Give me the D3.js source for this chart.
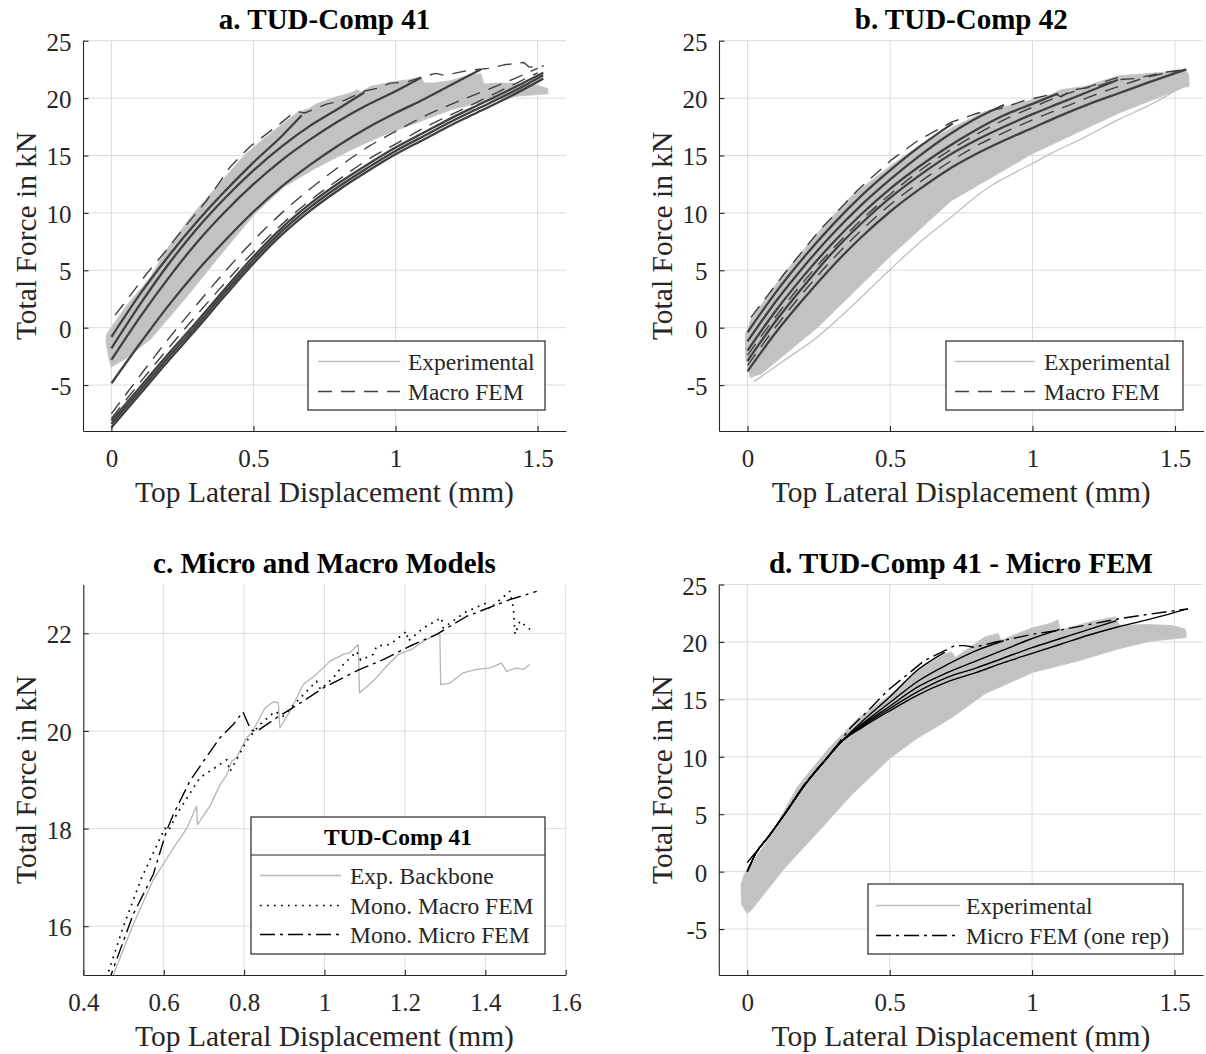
<!DOCTYPE html>
<html><head><meta charset="utf-8">
<script src="https://cdn.jsdelivr.net/npm/d3@7"></script>
<style>
body{margin:0;background:#fff;}
svg text{font-family:"Liberation Serif","Times New Roman",serif;fill:#262626;}
</style></head><body>
<svg id="chart" width="1206" height="1054"></svg>
<script>
// ---------- tick values ----------
const xTicksABD = [0, 0.5, 1, 1.5];
const yTicksABD = [-5, 0, 5, 10, 15, 20, 25];
const xTicksC = [0.4, 0.6, 0.8, 1, 1.2, 1.4, 1.6];
const yTicksC = [16, 18, 20, 22];

// ---------- titles / legends ----------
const titles = ["a. TUD-Comp 41", "b. TUD-Comp 42", "c. Micro and Macro Models", "d. TUD-Comp 41 - Micro FEM"];
const xLabel = "Top Lateral Displacement (mm)";
const yLabel = "Total Force in kN";
const legendAB = ["Experimental", "Macro FEM"];
const legendC = ["Exp. Backbone", "Mono. Macro FEM", "Mono. Micro FEM"];
const legendCTitle = "TUD-Comp 41";
const legendD = ["Experimental", "Micro FEM (one rep)"];

// ---------- panel a : TUD-Comp 41, macro FEM ----------
const aExpUpper = [[-0.016,-0.6],[0,0],[0.054,1.9],[0.136,4.3],[0.195,6.8],[0.289,9.9],[0.394,12.9],[0.465,14.9],[0.54,16.5],[0.607,17.8],[0.654,18.7],[0.69,19.0],[0.724,19.5],[0.78,20.0],[0.841,20.4],[0.865,20.7],[0.88,20.5],[0.912,21.0],[0.994,21.4],[1.05,21.6],[1.088,21.8],[1.1,21.3],[1.135,21.3],[1.194,21.5],[1.25,21.9],[1.299,22.1],[1.31,21.2],[1.37,21.3],[1.45,21.2],[1.5,21.1],[1.535,20.8]];
const aExpLower = [[1.535,20.4],[1.43,20.2],[1.31,19.7],[1.194,19.0],[1.076,17.9],[0.958,16.8],[0.841,15.5],[0.724,14.0],[0.607,12.3],[0.502,9.9],[0.371,6.0],[0.254,2.4],[0.136,-1.0],[0.054,-2.6],[0,-3.4],[-0.01,-2.4],[-0.018,-1.2]];
const aMacro1 = [[0,-0.8],[0.1,2.9],[0.2,6.2],[0.3,9.2],[0.4,11.9],[0.5,14.4],[0.6,16.7],[0.67,18.5]];
const aMacro2 = [[0,-1.8],[0.1,2.0],[0.2,5.5],[0.3,8.6],[0.4,11.3],[0.5,13.7],[0.6,15.8],[0.7,17.6],[0.8,19.1],[0.89,20.5]];
const aMacro3 = [[0,-2.8],[0.1,0.9],[0.2,4.3],[0.3,7.4],[0.4,10.1],[0.5,12.5],[0.6,14.6],[0.7,16.4],[0.8,18.0],[0.9,19.4],[1.0,20.6],[1.09,21.8]];
const aMacro4 = [[0,-4.85],[0.1,-1.4],[0.2,1.9],[0.3,4.9],[0.4,7.6],[0.5,10.1],[0.6,12.3],[0.7,14.2],[0.8,15.9],[0.9,17.4],[1.0,18.7],[1.1,19.9],[1.2,21.2],[1.3,22.5]];
const aMacro5a = [[0,-8.7],[0.1,-5.8],[0.2,-2.9],[0.3,-0.1],[0.4,2.8],[0.5,5.6],[0.6,8.1],[0.7,10.2],[0.8,12.0],[0.9,13.6],[1.0,15.1],[1.1,16.4],[1.2,17.7],[1.3,18.9],[1.4,20.1],[1.52,21.7]];
const aMacro5b = [[0,-8.4],[0.1,-5.5],[0.2,-2.6],[0.3,0.2],[0.4,3.1],[0.5,5.9],[0.6,8.4],[0.7,10.5],[0.8,12.3],[0.9,13.9],[1.0,15.4],[1.1,16.7],[1.2,18.0],[1.3,19.2],[1.4,20.4],[1.52,22.0]];
const aMacro5c = [[0,-8.1],[0.1,-5.2],[0.2,-2.3],[0.3,0.5],[0.4,3.4],[0.5,6.2],[0.6,8.7],[0.7,10.8],[0.8,12.6],[0.9,14.2],[1.0,15.7],[1.1,17.0],[1.2,18.3],[1.3,19.5],[1.4,20.7],[1.52,22.2]];
const aDashEnv = [[0.013,1.1],[0.054,2.4],[0.124,4.7],[0.195,6.8],[0.254,8.65],[0.336,11.1],[0.418,14.0],[0.489,15.8],[0.595,17.8],[0.63,18.5],[0.66,18.8],[0.68,18.7],[0.76,19.5],[0.82,19.8],[0.888,20.6],[0.935,20.85],[0.982,21.3],[1.04,21.4],[1.09,21.8],[1.141,22.15],[1.17,22.0],[1.205,22.15],[1.253,22.4],[1.335,22.6],[1.382,22.9],[1.452,23.1],[1.47,22.7],[1.522,22.8]];
const aDash2 = [[0,-7.5],[0.1,-4.2],[0.2,-1.0],[0.3,2.0],[0.4,4.9],[0.5,7.6],[0.6,10.0],[0.7,12.1],[0.8,14.0],[0.9,15.7],[1.0,17.1],[1.1,18.4],[1.2,19.5],[1.3,20.5],[1.4,21.5],[1.5,22.6]];
const aDash3 = [[0,-7.9],[0.1,-4.8],[0.2,-1.8],[0.3,1.1],[0.4,3.9],[0.5,6.6],[0.6,9.0],[0.7,11.1],[0.8,12.9],[0.9,14.6],[1.0,16.0],[1.1,17.4],[1.2,18.6],[1.3,19.8],[1.4,21.0],[1.5,22.2]];

// ---------- panel b : TUD-Comp 42, macro FEM ----------
const bExpUpper = [[-0.006,-0.5],[0,-0.3],[0.012,0.7],[0.129,4.7],[0.246,8.2],[0.363,11.4],[0.498,14.0],[0.598,15.75],[0.715,17.35],[0.832,18.8],[0.95,19.5],[1.067,20.3],[1.1,20.7],[1.184,21.0],[1.3,21.9],[1.419,22.15],[1.536,22.4],[1.548,22.0]];
const bExpLower = [[1.548,21.0],[1.536,21.0],[1.3,18.7],[1.0,15.2],[0.715,11.1],[0.498,6.2],[0.246,0.06],[0.047,-4.0],[0.01,-4.3],[-0.006,-2.5]];
const bExpLine = [[0.023,-4.7],[0.129,-2.85],[0.246,-0.8],[0.363,1.8],[0.498,5.0],[0.598,7.3],[0.715,9.65],[0.832,12.0],[1.0,14.3],[1.067,15.2],[1.184,16.6],[1.3,18.1],[1.419,19.5],[1.547,21.3]];
const bMacro1 = [[0,-0.4],[0.1,3.1],[0.2,6.2],[0.3,9.0],[0.4,11.5],[0.5,13.7],[0.6,15.7],[0.72,17.8]];
const bMacro2 = [[0,-1.2],[0.1,2.3],[0.2,5.4],[0.3,8.2],[0.4,10.7],[0.5,12.9],[0.6,14.9],[0.7,16.7],[0.8,18.2],[0.9,19.4]];
const bMacro3 = [[0,-2.0],[0.1,1.5],[0.2,4.6],[0.3,7.4],[0.4,9.9],[0.5,12.1],[0.6,14.0],[0.7,15.7],[0.8,17.2],[0.9,18.5],[1.0,19.5],[1.09,20.4]];
const bMacro4 = [[0,-2.9],[0.1,0.6],[0.2,3.7],[0.3,6.6],[0.4,9.1],[0.5,11.3],[0.6,13.2],[0.7,14.9],[0.8,16.3],[0.9,17.5],[1.0,18.6],[1.1,19.6],[1.2,20.6],[1.3,21.6]];
const bMacro5 = [[0,-3.8],[0.1,-0.4],[0.2,2.6],[0.3,5.4],[0.4,7.9],[0.5,10.1],[0.6,12.0],[0.7,13.7],[0.8,15.1],[0.9,16.3],[1.0,17.4],[1.1,18.5],[1.2,19.5],[1.3,20.4],[1.4,21.3],[1.54,22.5]];
const bDashEnv = [[0.012,0.9],[0.129,4.7],[0.25,8.4],[0.387,12.0],[0.504,14.6],[0.598,16.3],[0.715,17.9],[0.809,18.7],[0.89,19.1],[0.973,19.8],[1.079,20.4],[1.1,20.1],[1.137,20.7],[1.219,21.0],[1.3,21.6],[1.36,21.7],[1.477,22.3],[1.536,22.5]];
const bDash2 = [[0,-2.4],[0.1,1.0],[0.2,4.1],[0.3,6.9],[0.4,9.4],[0.5,11.6],[0.6,13.6],[0.7,15.3],[0.8,16.8],[0.9,18.1],[1.0,19.2],[1.1,20.2],[1.2,21.0],[1.3,21.8]];
const bDash3 = [[0,-3.3],[0.1,0.1],[0.2,3.2],[0.3,6.0],[0.4,8.5],[0.5,10.7],[0.6,12.6],[0.7,14.3],[0.8,15.8],[0.9,17.0],[1.0,18.1],[1.1,19.1],[1.2,20.1],[1.3,21.0],[1.4,21.8],[1.54,22.5]];

// ---------- panel c : monotonic backbones ----------
const cBackbone = [[0.465,14.8],[0.524,16.03],[0.574,16.95],[0.624,17.6],[0.657,18.0],[0.682,18.46],[0.684,18.08],[0.715,18.46],[0.74,18.9],[0.757,19.1],[0.769,19.38],[0.781,19.45],[0.806,19.86],[0.819,19.96],[0.839,20.27],[0.852,20.47],[0.873,20.6],[0.885,20.58],[0.889,20.06],[0.914,20.4],[0.947,20.95],[0.98,21.16],[1.014,21.43],[1.047,21.57],[1.063,21.6],[1.084,21.77],[1.087,20.78],[1.121,21.02],[1.155,21.33],[1.184,21.57],[1.217,21.67],[1.246,21.84],[1.283,21.99],[1.287,21.98],[1.289,20.95],[1.312,20.98],[1.345,21.19],[1.378,21.26],[1.412,21.29],[1.44,21.39],[1.453,21.22],[1.478,21.29],[1.494,21.26],[1.511,21.36]];
const cMacroMono = [[0.452,14.8],[0.5,16.0],[0.545,16.99],[0.603,18.01],[0.612,17.95],[0.632,18.29],[0.69,19.04],[0.757,19.41],[0.765,19.17],[0.806,19.79],[0.839,20.13],[0.877,20.4],[0.897,20.3],[0.931,20.6],[0.98,21.02],[0.99,20.85],[1.022,21.09],[1.047,21.36],[1.08,21.63],[1.09,21.45],[1.121,21.57],[1.13,21.74],[1.163,21.77],[1.204,22.04],[1.208,21.84],[1.246,22.11],[1.291,22.32],[1.295,22.11],[1.354,22.45],[1.403,22.62],[1.41,22.5],[1.461,22.86],[1.47,22.52],[1.474,21.98],[1.486,22.25],[1.511,22.08]];
const cMicroMono = [[0.46,14.8],[0.524,16.24],[0.574,17.06],[0.607,17.95],[0.624,18.29],[0.665,18.97],[0.699,19.38],[0.74,19.86],[0.773,20.13],[0.797,20.39],[0.817,20.02],[0.831,19.99],[0.881,20.27],[0.947,20.61],[0.997,20.88],[1.063,21.16],[1.088,21.26],[1.146,21.46],[1.213,21.74],[1.279,21.98],[1.354,22.35],[1.461,22.69],[1.528,22.86]];

// ---------- panel d : TUD-Comp 41, micro FEM ----------
const dExpUpper = [[-0.021,-1.1],[-0.01,-0.3],[0,0.2],[0.073,2.7],[0.178,7.4],[0.283,10.6],[0.389,13.3],[0.5,15.3],[0.6,17.6],[0.693,18.9],[0.716,19.1],[0.73,18.6],[0.8,19.8],[0.833,20.4],[0.88,20.7],[0.89,20.1],[1.0,21.2],[1.067,21.6],[1.09,21.9],[1.097,21.0],[1.2,21.7],[1.29,22.15],[1.307,21.4],[1.4,21.5],[1.49,21.4],[1.536,21.1],[1.54,20.7]];
const dExpLower = [[1.54,20.4],[1.418,20.1],[1.3,19.4],[1.18,18.5],[1.0,17.35],[0.833,15.5],[0.716,13.4],[0.6,11.7],[0.5,9.9],[0.365,6.7],[0.248,3.5],[0.131,0.35],[0.014,-3.3],[0,-3.6],[-0.019,-2.85]];
const dMicro1 = [[0,0],[0.03,1.6],[0.073,3.0],[0.131,5.0],[0.2,7.5],[0.27,9.6],[0.33,11.3],[0.4,13.0],[0.5,15.2],[0.6,17.6],[0.693,19.1]];
const dMicro2 = [[0,0],[0.03,1.6],[0.073,3.0],[0.131,5.0],[0.2,7.5],[0.27,9.6],[0.33,11.3],[0.4,12.8],[0.5,14.7],[0.6,16.6],[0.7,18.0],[0.8,19.2],[0.9,20.1]];
const dMicro3 = [[0,0],[0.03,1.6],[0.073,3.0],[0.131,5.0],[0.2,7.5],[0.27,9.6],[0.33,11.3],[0.4,12.7],[0.5,14.4],[0.6,16.1],[0.7,17.3],[0.8,18.3],[0.9,19.3],[1.0,20.3],[1.097,21.1]];
const dMicro4 = [[0,0],[0.03,1.6],[0.073,3.0],[0.131,5.0],[0.2,7.5],[0.27,9.6],[0.33,11.3],[0.4,12.6],[0.5,14.2],[0.6,15.7],[0.7,16.9],[0.8,17.7],[0.9,18.6],[1.0,19.5],[1.1,20.3],[1.2,21.1],[1.296,21.85]];
const dMicro5 = [[0,0],[0.03,1.6],[0.073,3.0],[0.131,5.0],[0.2,7.5],[0.27,9.6],[0.33,11.3],[0.4,12.5],[0.5,14.0],[0.6,15.4],[0.7,16.5],[0.8,17.3],[0.9,18.2],[1.0,19.0],[1.1,19.8],[1.2,20.6],[1.3,21.3],[1.4,21.9],[1.547,22.88]];
const dMicroEnv = [[0,0.8],[0.073,3.0],[0.131,5.0],[0.2,7.6],[0.27,9.65],[0.318,11.1],[0.365,12.6],[0.424,14.0],[0.494,15.8],[0.564,17.2],[0.623,18.4],[0.693,19.24],[0.728,19.68],[0.763,19.68],[0.798,19.53],[0.868,19.97],[0.95,20.4],[1.009,20.7],[1.09,20.99],[1.18,21.42],[1.3,22.0],[1.418,22.44],[1.547,22.88]];

// ---------- drawing ----------
const svg = d3.select("#chart");
const FONT = '"Liberation Serif","Times New Roman",serif';
const AXIS = "#262626";
const EXP_FILL = "#c2c2c2", EXP_STROKE = "#c6c6c6";
const DARK = "#404040";
const TICK_FS = 25, LABEL_FS = 29.5, TITLE_FS = 29, LEGEND_FS = 23.5;

const styles = {
  expLine:  {stroke: "#c0c0c0", width: 1.3, dash: null},
  macroSolid: {stroke: DARK, width: 2.3, dash: null},
  macroDash: {stroke: DARK, width: 1.4, dash: "14,9"},
  microSolid: {stroke: "#000", width: 1.4, dash: null},
  microDashDot: {stroke: "#000", width: 1.4, dash: "15,5,3,5"},
  backbone: {stroke: "#b5b5b5", width: 1.3, dash: null},
  dotted: {stroke: "#000", width: 1.7, dash: "1.7,5.3"},
  dashDot: {stroke: "#000", width: 1.4, dash: "15,5,3,5"}
};

const panels = [
  {id:"a", title:titles[0], left:83, right:566, top:40.7, bottom:431, xDomain:[-0.1,1.6], yDomain:[-9,25], xTicks:xTicksABD, yTicks:yTicksABD,
   bands:[[aExpUpper,aExpLower]],
   series:[
     {d:aMacro5a,s:"macroSolid",c:"smooth"},{d:aMacro5b,s:"macroSolid",c:"smooth"},{d:aMacro5c,s:"macroSolid",c:"smooth"},
     {d:aMacro4,s:"macroSolid",c:"smooth"},{d:aMacro3,s:"macroSolid",c:"smooth"},{d:aMacro2,s:"macroSolid",c:"smooth"},{d:aMacro1,s:"macroSolid",c:"smooth"},
     {d:aDash2,s:"macroDash",c:"smooth"},{d:aDash3,s:"macroDash",c:"smooth"},{d:aDashEnv,s:"macroDash",c:"linear"}],
   legend:{x:308, y:341, w:237, h:69, rows:[{t:legendAB[0],s:"expLine"},{t:legendAB[1],s:"macroDash"}], lineX:[318,400], textX:408, rowY:[361.5,391.5]}},
  {id:"b", title:titles[1], left:719, right:1203.5, top:40.7, bottom:431, xDomain:[-0.1,1.6], yDomain:[-9,25], xTicks:xTicksABD, yTicks:yTicksABD,
   bands:[[bExpUpper,bExpLower]],
   series:[
     {d:bExpLine,s:"expLine",c:"smooth"},
     {d:bMacro5,s:"macroSolid",c:"smooth"},{d:bMacro4,s:"macroSolid",c:"smooth"},{d:bMacro3,s:"macroSolid",c:"smooth"},{d:bMacro2,s:"macroSolid",c:"smooth"},{d:bMacro1,s:"macroSolid",c:"smooth"},
     {d:bDash2,s:"macroDash",c:"smooth"},{d:bDash3,s:"macroDash",c:"smooth"},{d:bDashEnv,s:"macroDash",c:"linear"}],
   legend:{x:946, y:341, w:237, h:69, rows:[{t:legendAB[0],s:"expLine"},{t:legendAB[1],s:"macroDash"}], lineX:[955,1035], textX:1044, rowY:[361.5,391.5]}},
  {id:"c", title:titles[2], left:83.3, right:565.7, top:584.5, bottom:975, xDomain:[0.4,1.6], yDomain:[15,23], xTicks:xTicksC, yTicks:yTicksC,
   bands:[],
   series:[{d:cBackbone,s:"backbone",c:"linear"},{d:cMacroMono,s:"dotted",c:"linear"},{d:cMicroMono,s:"dashDot",c:"linear"}],
   legend:{x:251, y:817, w:294, h:137, title:legendCTitle, sepY:855, rows:[{t:legendC[0],s:"backbone"},{t:legendC[1],s:"dotted"},{t:legendC[2],s:"dashDot"}], lineX:[260,341], textX:350, rowY:[875.5,905.5,934.5]}},
  {id:"d", title:titles[3], left:718.8, right:1203, top:584.5, bottom:975, xDomain:[-0.1,1.6], yDomain:[-9,25], xTicks:xTicksABD, yTicks:yTicksABD,
   bands:[[dExpUpper,dExpLower]],
   series:[{d:dMicro5,s:"microSolid",c:"smooth"},{d:dMicro4,s:"microSolid",c:"smooth"},{d:dMicro3,s:"microSolid",c:"smooth"},{d:dMicro2,s:"microSolid",c:"smooth"},{d:dMicro1,s:"microSolid",c:"smooth"},
     {d:dMicroEnv,s:"microDashDot",c:"linear"}],
   legend:{x:868, y:884, w:315, h:70, rows:[{t:legendD[0],s:"expLine"},{t:legendD[1],s:"microDashDot"}], lineX:[876,960], textX:966, rowY:[905.5,935.5]}}
];

function applyStyle(sel, key){
  const st = styles[key];
  sel.attr("fill","none").attr("stroke",st.stroke).attr("stroke-width",st.width)
     .attr("stroke-linejoin","round").attr("stroke-linecap","butt");
  if (st.dash) sel.attr("stroke-dasharray", st.dash);
}
function txt(sel, size, bold){
  sel.style("font-family", FONT).style("font-size", size + "px");
  if (bold) sel.style("font-weight", "bold");
  return sel;
}

const defs = svg.append("defs");

panels.forEach(p => {
  const x = d3.scaleLinear().domain(p.xDomain).range([p.left, p.right]);
  const y = d3.scaleLinear().domain(p.yDomain).range([p.bottom, p.top]);
  const g = svg.append("g");
  const clipId = "clip-" + p.id;
  defs.append("clipPath").attr("id", clipId).append("rect")
    .attr("x", p.left).attr("y", p.top).attr("width", p.right - p.left).attr("height", p.bottom - p.top);

  // grid
  const grid = g.append("g").attr("stroke", "#dcdcdc").attr("stroke-width", 1);
  grid.selectAll("line.gx").data(p.xTicks).join("line").attr("class","gx")
    .attr("x1", d => x(d)).attr("x2", d => x(d)).attr("y1", p.top).attr("y2", p.bottom);
  grid.selectAll("line.gy").data(p.yTicks).join("line").attr("class","gy")
    .attr("x1", p.left).attr("x2", p.right).attr("y1", d => y(d)).attr("y2", d => y(d));

  const plot = g.append("g").attr("clip-path", `url(#${clipId})`);
  const lineLinear = d3.line().x(d => x(d[0])).y(d => y(d[1])).curve(d3.curveLinear);
  const lineSmooth = d3.line().x(d => x(d[0])).y(d => y(d[1])).curve(d3.curveMonotoneX);
  const closed = d3.line().x(d => x(d[0])).y(d => y(d[1])).curve(d3.curveLinearClosed);

  p.bands.forEach(([up, lo]) => {
    plot.append("path").attr("d", closed(up.concat(lo)))
      .attr("fill", EXP_FILL).attr("stroke", EXP_STROKE).attr("stroke-width", 1.5).attr("stroke-linejoin","round");
  });
  p.series.forEach(s => {
    const path = plot.append("path").attr("d", (s.c === "smooth" ? lineSmooth : lineLinear)(s.d));
    applyStyle(path, s.s);
  });

  // axes
  const xAxis = d3.axisBottom(x).tickValues(p.xTicks).tickFormat(d => String(d)).tickSizeInner(-5).tickSizeOuter(0).tickPadding(0);
  const yAxis = d3.axisLeft(y).tickValues(p.yTicks).tickFormat(d => String(d)).tickSizeInner(-5.5).tickSizeOuter(0).tickPadding(11.5);
  const gx = g.append("g").attr("transform", `translate(0,${p.bottom})`).call(xAxis);
  const gy = g.append("g").attr("transform", `translate(${p.left},0)`).call(yAxis);
  [gx, gy].forEach(ax => {
    ax.attr("font-family", FONT).attr("font-size", TICK_FS);
    ax.selectAll("path,line").attr("stroke", AXIS).attr("stroke-width", 1.1);
    txt(ax.selectAll("text"), TICK_FS).attr("fill", AXIS);
  });
  gx.selectAll("text").attr("y", 35.7).attr("dy", 0);
  gy.selectAll("text").attr("dy", 9.5);

  // titles and labels
  const cx = (p.left + p.right) / 2;
  txt(g.append("text"), TITLE_FS, true).attr("x", cx).attr("y", p.top - 11.5).attr("text-anchor", "middle")
    .style("fill", "#000").text(p.title);
  txt(g.append("text"), LABEL_FS).attr("x", cx).attr("y", p.bottom + 70.5).attr("text-anchor", "middle").text(xLabel);
  txt(g.append("text"), LABEL_FS).attr("transform", `translate(${p.left - 47},${(p.top + p.bottom) / 2}) rotate(-90)`)
    .attr("text-anchor", "middle").text(yLabel);

  // legend
  const L = p.legend;
  const lg = g.append("g");
  lg.append("rect").attr("x", L.x).attr("y", L.y).attr("width", L.w).attr("height", L.h)
    .attr("fill", "#fff").attr("stroke", AXIS).attr("stroke-width", 1.2);
  if (L.title) {
    txt(lg.append("text"), LEGEND_FS, true).attr("x", L.x + L.w / 2).attr("y", L.y + 28).attr("text-anchor", "middle")
      .style("fill", "#000").text(L.title);
    lg.append("line").attr("x1", L.x).attr("x2", L.x + L.w).attr("y1", L.sepY).attr("y2", L.sepY)
      .attr("stroke", AXIS).attr("stroke-width", 1.2);
  }
  L.rows.forEach((r, i) => {
    const ln = lg.append("line").attr("x1", L.lineX[0]).attr("x2", L.lineX[1]).attr("y1", L.rowY[i]).attr("y2", L.rowY[i]);
    applyStyle(ln, r.s);
    txt(lg.append("text"), LEGEND_FS).attr("x", L.textX).attr("y", L.rowY[i] + 8).text(r.t);
  });
});
</script>
</body></html>
